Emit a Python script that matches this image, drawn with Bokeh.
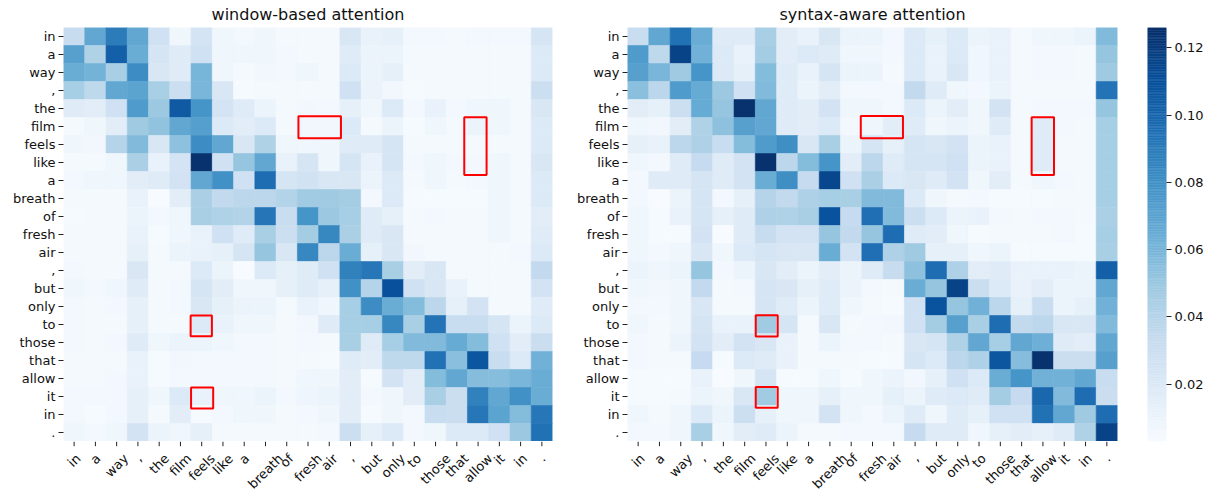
import numpy as np
from bokeh.plotting import figure
from bokeh.models import (Range1d, FixedTicker, LinearColorMapper, ColumnDataSource,
                          NumeralTickFormatter)
from bokeh.transform import transform
from bokeh.layouts import row, column
from bokeh.palettes import Blues256
from bokeh.embed import file_html
from bokeh.resources import INLINE
from bokeh.core.properties import value
import math

tokens = ["in", "a", "way", ",", "the", "film", "feels", "like", "a", "breath", "of",
          "fresh", "air", ",", "but", "only", "to", "those", "that", "allow", "it", "in", "."]

titles = ["window-based attention", "syntax-aware attention"]

window_attn = [
    [0.033, 0.068, 0.090, 0.068, 0.028, 0.008, 0.025, 0.008, 0.006, 0.008, 0.005, 0.005, 0.005, 0.022, 0.012, 0.014, 0.006, 0.006, 0.005, 0.006, 0.006, 0.006, 0.024],
    [0.072, 0.042, 0.103, 0.065, 0.024, 0.018, 0.028, 0.008, 0.008, 0.008, 0.006, 0.005, 0.005, 0.018, 0.010, 0.010, 0.005, 0.005, 0.005, 0.005, 0.005, 0.005, 0.020],
    [0.065, 0.062, 0.045, 0.082, 0.022, 0.018, 0.061, 0.008, 0.005, 0.007, 0.006, 0.008, 0.005, 0.020, 0.010, 0.014, 0.005, 0.005, 0.005, 0.005, 0.005, 0.005, 0.020],
    [0.046, 0.037, 0.068, 0.070, 0.045, 0.030, 0.060, 0.022, 0.004, 0.005, 0.005, 0.005, 0.005, 0.028, 0.010, 0.007, 0.004, 0.005, 0.005, 0.005, 0.005, 0.005, 0.030],
    [0.018, 0.016, 0.028, 0.075, 0.050, 0.106, 0.078, 0.025, 0.018, 0.010, 0.005, 0.007, 0.006, 0.014, 0.008, 0.020, 0.006, 0.012, 0.006, 0.008, 0.008, 0.005, 0.022],
    [0.005, 0.008, 0.016, 0.049, 0.053, 0.068, 0.073, 0.020, 0.016, 0.020, 0.005, 0.007, 0.007, 0.020, 0.005, 0.010, 0.004, 0.008, 0.005, 0.010, 0.008, 0.005, 0.020],
    [0.008, 0.007, 0.040, 0.058, 0.022, 0.054, 0.082, 0.068, 0.022, 0.042, 0.008, 0.008, 0.008, 0.018, 0.018, 0.024, 0.005, 0.005, 0.005, 0.005, 0.005, 0.005, 0.020],
    [0.005, 0.005, 0.008, 0.044, 0.012, 0.025, 0.125, 0.028, 0.052, 0.068, 0.012, 0.024, 0.008, 0.024, 0.012, 0.024, 0.006, 0.008, 0.006, 0.006, 0.008, 0.005, 0.022],
    [0.006, 0.008, 0.008, 0.016, 0.018, 0.026, 0.068, 0.080, 0.028, 0.097, 0.024, 0.027, 0.022, 0.022, 0.010, 0.020, 0.005, 0.008, 0.005, 0.006, 0.008, 0.005, 0.020],
    [0.005, 0.005, 0.005, 0.012, 0.003, 0.016, 0.044, 0.035, 0.038, 0.038, 0.041, 0.048, 0.049, 0.047, 0.006, 0.020, 0.004, 0.004, 0.004, 0.004, 0.008, 0.005, 0.020],
    [0.004, 0.005, 0.005, 0.010, 0.006, 0.008, 0.045, 0.042, 0.041, 0.093, 0.032, 0.078, 0.050, 0.046, 0.018, 0.014, 0.005, 0.006, 0.005, 0.005, 0.008, 0.005, 0.016],
    [0.005, 0.005, 0.005, 0.012, 0.004, 0.008, 0.012, 0.028, 0.018, 0.045, 0.030, 0.047, 0.085, 0.044, 0.018, 0.022, 0.005, 0.005, 0.005, 0.005, 0.008, 0.005, 0.018],
    [0.005, 0.005, 0.005, 0.014, 0.005, 0.010, 0.012, 0.014, 0.024, 0.052, 0.022, 0.085, 0.038, 0.065, 0.014, 0.022, 0.007, 0.005, 0.005, 0.005, 0.005, 0.006, 0.020],
    [0.006, 0.005, 0.005, 0.022, 0.005, 0.005, 0.020, 0.010, 0.003, 0.020, 0.014, 0.018, 0.028, 0.088, 0.092, 0.045, 0.016, 0.022, 0.005, 0.005, 0.005, 0.005, 0.035],
    [0.008, 0.006, 0.008, 0.018, 0.005, 0.006, 0.024, 0.016, 0.008, 0.008, 0.014, 0.018, 0.014, 0.080, 0.040, 0.111, 0.028, 0.022, 0.012, 0.005, 0.005, 0.005, 0.026],
    [0.006, 0.005, 0.006, 0.014, 0.005, 0.006, 0.022, 0.014, 0.010, 0.010, 0.005, 0.012, 0.008, 0.046, 0.082, 0.065, 0.057, 0.038, 0.014, 0.026, 0.005, 0.005, 0.018],
    [0.006, 0.005, 0.005, 0.014, 0.005, 0.005, 0.020, 0.012, 0.008, 0.008, 0.005, 0.007, 0.018, 0.046, 0.046, 0.085, 0.045, 0.094, 0.032, 0.032, 0.024, 0.010, 0.020],
    [0.006, 0.005, 0.006, 0.018, 0.008, 0.010, 0.010, 0.008, 0.006, 0.006, 0.005, 0.006, 0.005, 0.045, 0.018, 0.046, 0.058, 0.058, 0.066, 0.057, 0.028, 0.016, 0.031],
    [0.005, 0.005, 0.005, 0.012, 0.004, 0.007, 0.006, 0.006, 0.006, 0.006, 0.005, 0.005, 0.004, 0.018, 0.016, 0.037, 0.037, 0.095, 0.055, 0.108, 0.032, 0.020, 0.063],
    [0.005, 0.005, 0.006, 0.012, 0.004, 0.006, 0.006, 0.006, 0.006, 0.006, 0.005, 0.008, 0.008, 0.016, 0.004, 0.026, 0.016, 0.057, 0.068, 0.056, 0.056, 0.060, 0.065],
    [0.006, 0.006, 0.006, 0.014, 0.008, 0.020, 0.012, 0.008, 0.008, 0.010, 0.006, 0.009, 0.010, 0.016, 0.006, 0.008, 0.016, 0.045, 0.031, 0.088, 0.068, 0.080, 0.065],
    [0.006, 0.004, 0.006, 0.014, 0.005, 0.016, 0.004, 0.006, 0.008, 0.008, 0.005, 0.006, 0.008, 0.016, 0.004, 0.008, 0.006, 0.032, 0.031, 0.092, 0.070, 0.057, 0.092],
    [0.008, 0.006, 0.008, 0.026, 0.010, 0.008, 0.014, 0.005, 0.005, 0.005, 0.005, 0.005, 0.006, 0.030, 0.014, 0.020, 0.006, 0.008, 0.020, 0.020, 0.028, 0.050, 0.095],
]

syntax_attn = [
    [0.032, 0.068, 0.095, 0.065, 0.018, 0.018, 0.045, 0.016, 0.012, 0.022, 0.010, 0.010, 0.006, 0.020, 0.014, 0.020, 0.010, 0.012, 0.005, 0.008, 0.008, 0.010, 0.058],
    [0.075, 0.037, 0.117, 0.063, 0.020, 0.012, 0.047, 0.016, 0.020, 0.018, 0.008, 0.008, 0.006, 0.020, 0.012, 0.020, 0.008, 0.012, 0.005, 0.006, 0.006, 0.005, 0.052],
    [0.072, 0.060, 0.049, 0.078, 0.020, 0.014, 0.057, 0.018, 0.012, 0.024, 0.010, 0.010, 0.005, 0.020, 0.012, 0.022, 0.008, 0.012, 0.005, 0.006, 0.006, 0.005, 0.049],
    [0.055, 0.038, 0.075, 0.066, 0.050, 0.028, 0.058, 0.018, 0.010, 0.016, 0.006, 0.006, 0.006, 0.035, 0.018, 0.008, 0.006, 0.010, 0.005, 0.005, 0.005, 0.005, 0.094],
    [0.016, 0.014, 0.030, 0.066, 0.052, 0.125, 0.068, 0.018, 0.016, 0.026, 0.008, 0.008, 0.006, 0.020, 0.010, 0.016, 0.008, 0.026, 0.005, 0.006, 0.006, 0.006, 0.052],
    [0.008, 0.007, 0.016, 0.042, 0.054, 0.072, 0.068, 0.018, 0.016, 0.020, 0.006, 0.008, 0.016, 0.018, 0.008, 0.010, 0.008, 0.018, 0.005, 0.018, 0.006, 0.005, 0.046],
    [0.014, 0.012, 0.038, 0.043, 0.032, 0.057, 0.075, 0.081, 0.022, 0.045, 0.010, 0.024, 0.014, 0.024, 0.022, 0.026, 0.010, 0.012, 0.005, 0.018, 0.005, 0.005, 0.046],
    [0.008, 0.006, 0.018, 0.034, 0.018, 0.026, 0.125, 0.038, 0.057, 0.078, 0.016, 0.038, 0.018, 0.024, 0.024, 0.028, 0.010, 0.012, 0.005, 0.018, 0.005, 0.005, 0.046],
    [0.006, 0.018, 0.018, 0.024, 0.018, 0.026, 0.065, 0.081, 0.034, 0.115, 0.028, 0.044, 0.020, 0.022, 0.018, 0.026, 0.008, 0.016, 0.005, 0.008, 0.006, 0.005, 0.046],
    [0.006, 0.003, 0.010, 0.024, 0.006, 0.014, 0.040, 0.035, 0.043, 0.046, 0.045, 0.058, 0.058, 0.020, 0.008, 0.005, 0.006, 0.004, 0.004, 0.004, 0.005, 0.005, 0.046],
    [0.008, 0.004, 0.012, 0.024, 0.014, 0.018, 0.043, 0.042, 0.045, 0.110, 0.034, 0.096, 0.058, 0.030, 0.020, 0.010, 0.012, 0.006, 0.005, 0.006, 0.006, 0.005, 0.044],
    [0.008, 0.004, 0.004, 0.026, 0.003, 0.018, 0.033, 0.026, 0.026, 0.052, 0.035, 0.052, 0.097, 0.018, 0.016, 0.008, 0.004, 0.005, 0.005, 0.005, 0.006, 0.004, 0.046],
    [0.008, 0.006, 0.008, 0.022, 0.008, 0.020, 0.024, 0.022, 0.022, 0.065, 0.026, 0.096, 0.043, 0.049, 0.014, 0.014, 0.008, 0.010, 0.004, 0.004, 0.004, 0.004, 0.045],
    [0.010, 0.008, 0.010, 0.052, 0.006, 0.010, 0.022, 0.016, 0.010, 0.016, 0.010, 0.018, 0.033, 0.054, 0.097, 0.043, 0.016, 0.018, 0.012, 0.012, 0.012, 0.010, 0.103],
    [0.008, 0.007, 0.008, 0.035, 0.005, 0.006, 0.024, 0.022, 0.014, 0.018, 0.010, 0.006, 0.005, 0.065, 0.052, 0.117, 0.031, 0.020, 0.012, 0.016, 0.010, 0.010, 0.068],
    [0.006, 0.006, 0.008, 0.022, 0.005, 0.005, 0.024, 0.018, 0.010, 0.018, 0.008, 0.005, 0.004, 0.028, 0.110, 0.052, 0.063, 0.038, 0.014, 0.032, 0.010, 0.014, 0.063],
    [0.008, 0.005, 0.008, 0.024, 0.012, 0.012, 0.048, 0.024, 0.005, 0.022, 0.005, 0.006, 0.007, 0.028, 0.047, 0.072, 0.045, 0.097, 0.035, 0.038, 0.022, 0.022, 0.058],
    [0.006, 0.005, 0.010, 0.026, 0.016, 0.026, 0.022, 0.012, 0.005, 0.010, 0.006, 0.006, 0.005, 0.022, 0.024, 0.042, 0.068, 0.046, 0.068, 0.064, 0.018, 0.016, 0.068],
    [0.006, 0.005, 0.005, 0.034, 0.004, 0.020, 0.018, 0.012, 0.005, 0.005, 0.005, 0.004, 0.004, 0.024, 0.020, 0.038, 0.043, 0.108, 0.056, 0.125, 0.031, 0.031, 0.072],
    [0.004, 0.004, 0.004, 0.012, 0.003, 0.008, 0.024, 0.004, 0.004, 0.008, 0.004, 0.008, 0.010, 0.007, 0.014, 0.028, 0.020, 0.065, 0.078, 0.063, 0.063, 0.068, 0.032],
    [0.004, 0.004, 0.005, 0.010, 0.008, 0.022, 0.048, 0.008, 0.008, 0.014, 0.008, 0.008, 0.014, 0.010, 0.018, 0.020, 0.018, 0.047, 0.034, 0.100, 0.058, 0.097, 0.031],
    [0.008, 0.005, 0.008, 0.020, 0.010, 0.030, 0.014, 0.008, 0.008, 0.026, 0.008, 0.006, 0.010, 0.018, 0.008, 0.018, 0.014, 0.028, 0.028, 0.095, 0.068, 0.049, 0.097],
    [0.006, 0.006, 0.008, 0.045, 0.008, 0.016, 0.018, 0.010, 0.005, 0.005, 0.006, 0.006, 0.006, 0.034, 0.018, 0.018, 0.008, 0.014, 0.016, 0.014, 0.018, 0.042, 0.117],
]

# highlighted regions in cell units: (x0, x1, y0, y1)
window_boxes = [(11.05, 13.05, 4.93, 6.15), (18.85, 19.9, 4.98, 8.2),
                (5.98, 6.98, 16.0, 17.15), (6.0, 7.04, 20.0, 21.17)]
syntax_boxes = [(10.95, 12.93, 4.91, 6.15), (18.97, 20.02, 4.98, 8.2),
                (6.02, 7.05, 15.98, 17.17), (6.02, 7.05, 19.97, 21.13)]

cbar_ticks = [0.02, 0.04, 0.06, 0.08, 0.10, 0.12]
LOW, HIGH = 0.003, 0.126

# ---------------------------------------------------------------- styling
FONT = "DejaVu Sans"
TICK_PX = 13
TEXT_COLOR = "#111111"
TICK_COLOR = "#222222"
palette = list(reversed(Blues256))
mapper = LinearColorMapper(palette=palette, low=LOW, high=HIGH)
n = len(tokens)
centers = [i + 0.5 for i in range(n)]
overrides = {c: t for c, t in zip(centers, tokens)}

TITLE_H, FRAME_H, LABEL_H = 27, 414, 54
TITLE_MID = 13.5
TICK_LEN, TICK_PAD = 4.7, 4.7

# approximate DejaVu Sans advance widths (em) used to centre rotated tick labels
CHAR_W = {'a': 0.613, 'b': 0.635, 'e': 0.615, 'f': 0.352, 'h': 0.634, 'i': 0.278,
          'k': 0.579, 'l': 0.278, 'm': 0.974, 'n': 0.634, 'o': 0.612, 'r': 0.411,
          's': 0.521, 't': 0.392, 'u': 0.634, 'w': 0.818, 'y': 0.592, ',': 0.318, '.': 0.318}


def text_w(s):
    return sum(CHAR_W.get(ch, 0.6) for ch in s) * TICK_PX


def strip(width, left, right, height, xr):
    s = figure(width=width, height=height, x_range=xr, y_range=Range1d(height, 0),
               output_backend="svg", toolbar_location=None,
               x_axis_location=None, y_axis_location=None,
               min_border_left=left, min_border_right=right,
               min_border_top=0, min_border_bottom=0)
    s.grid.visible = False
    s.outline_line_color = None
    return s


def heat(mat, title, boxes, width, left, right):
    xr = Range1d(0, n)
    # title strip
    t = strip(width, left, right, TITLE_H, xr)
    t.text(x=[n / 2], y=[TITLE_MID], text=[title], text_align="center", text_baseline="middle",
           text_font=value(FONT), text_font_size=value("16px"), text_color=TEXT_COLOR)

    # heatmap
    p = figure(width=width, height=FRAME_H, x_range=xr, y_range=Range1d(n, 0),
               output_backend="svg", toolbar_location=None, x_axis_location=None,
               min_border_left=left, min_border_right=right,
               min_border_top=0, min_border_bottom=0)
    xs, ys, vs = [], [], []
    for r in range(n):
        for c in range(n):
            xs.append(c + 0.5)
            ys.append(r + 0.5)
            vs.append(mat[r][c])
    src = ColumnDataSource(dict(x=xs, y=ys, v=vs))
    p.rect(x="x", y="y", width=1, height=1, source=src,
           fill_color=transform("v", mapper), line_color=transform("v", mapper),
           line_width=0.6)
    bsrc = ColumnDataSource(dict(left=[b[0] for b in boxes], right=[b[1] for b in boxes],
                                 top=[b[2] for b in boxes], bottom=[b[3] for b in boxes]))
    p.quad(left="left", right="right", top="top", bottom="bottom", source=bsrc,
           fill_color=None, line_color="#ff0000", line_width=2)
    ax = p.yaxis[0]
    ax.ticker = FixedTicker(ticks=centers)
    ax.major_label_overrides = overrides
    ax.axis_line_color = None
    ax.major_tick_in = 0
    ax.major_tick_out = 5
    ax.major_tick_line_color = TICK_COLOR
    ax.minor_tick_line_color = None
    ax.major_label_text_font = FONT
    ax.major_label_text_font_size = f"{TICK_PX}px"
    ax.major_label_text_color = TEXT_COLOR
    ax.major_label_standoff = 3
    p.grid.visible = False
    p.outline_line_color = None

    # x tick marks + rotated labels (centred on ticks)
    b = strip(width, left, right, LABEL_H, xr)
    b.segment(x0=centers, y0=[0] * n, x1=centers, y1=[TICK_LEN] * n,
              line_color=TICK_COLOR, line_width=1)
    diag = math.sqrt(0.5)
    ly = [TICK_LEN + TICK_PAD + 0.5 * diag * (text_w(tk) + 15) for tk in tokens]
    lsrc = ColumnDataSource(dict(x=centers, y=ly, text=tokens))
    b.text(x="x", y="y", text="text", source=lsrc, angle=math.pi / 4,
           text_align="center", text_baseline="middle",
           text_font=value(FONT), text_font_size=value(f"{TICK_PX}px"), text_color=TEXT_COLOR)
    return column(t, p, b)


c1 = heat(window_attn, titles[0], window_boxes, 560, 63, 8)
c2 = heat(syntax_attn, titles[1], syntax_boxes, 561, 67, 4)

# colorbar
p3 = figure(width=85, height=TITLE_H + FRAME_H + LABEL_H, x_range=Range1d(0, 1),
            y_range=Range1d(LOW, HIGH),
            output_backend="svg", toolbar_location=None, y_axis_location="right",
            x_axis_location=None, min_border_left=26, min_border_right=38,
            min_border_top=TITLE_H, min_border_bottom=LABEL_H)
edges = np.linspace(LOW, HIGH, 257)
mids = (edges[:-1] + edges[1:]) / 2
csrc = ColumnDataSource(dict(b=edges[:-1], t=edges[1:], v=mids))
p3.quad(left=0, right=1, bottom="b", top="t", source=csrc,
        fill_color=transform("v", mapper), line_color=transform("v", mapper), line_width=0.5)
ax = p3.yaxis[0]
ax.ticker = FixedTicker(ticks=cbar_ticks)
ax.formatter = NumeralTickFormatter(format="0.00")
ax.axis_line_color = None
ax.major_tick_in = 0
ax.major_tick_out = 5
ax.major_tick_line_color = TICK_COLOR
ax.minor_tick_line_color = None
ax.major_label_text_font = FONT
ax.major_label_text_font_size = f"{TICK_PX}px"
ax.major_label_text_color = TEXT_COLOR
ax.major_label_standoff = 3
p3.grid.visible = False
p3.outline_line_color = None

layout = row(c1, c2, p3)
open("out.html", "w").write(file_html(layout, INLINE))
